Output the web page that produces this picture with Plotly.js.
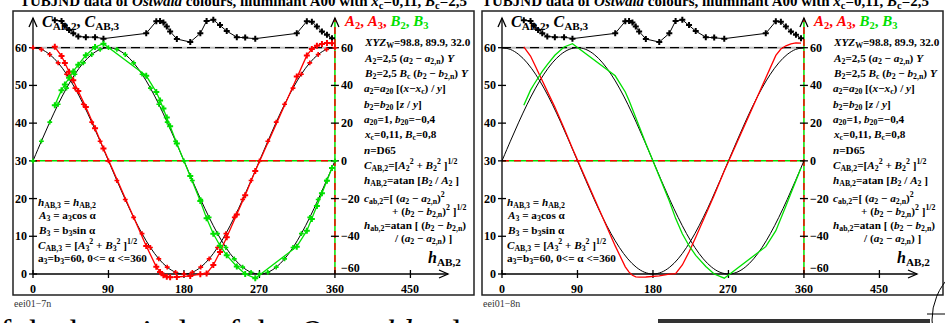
<!DOCTYPE html>
<html>
<head>
<meta charset="utf-8">
<script src="https://cdn.plot.ly/plotly-3.0.1.min.js"></script>
<style>
  body { margin: 0; background: #fff; }
  #chart { width: 945px; height: 323px; }
</style>
</head>
<body>
<div id="chart"></div>
<script>
// hue angle h_AB,2 of the measured Ostwald colours (degrees)
var hueData = [26, 34, 38, 43, 48, 54, 63, 74, 84, 135, 147, 151.5, 155.5, 159.5, 163.5, 171.5,
  187.5, 199.5, 207, 215, 223, 231, 243, 253, 265, 314.5, 326.5, 332.5, 338.5, 344.5, 350.5, 356.5];
// chroma C_AB,2 (left scale)
var chromaC2 = [67.3, 67.1, 65.8, 64.7, 63.8, 63.0, 62.8, 62.8, 62.4, 63.8, 67.0, 67.1, 66.7, 65.6, 64.3, 62.3,
  61.5, 63.8, 67.1, 67.4, 66.0, 64.4, 62.8, 62.7, 62.4, 63.8, 67.0, 66.9, 65.6, 64.3, 63.4, 62.5];
// A_2 and B_2 (right scale)
var redA2 = [60.5, 55.6, 51.9, 47.3, 42.7, 37.0, 28.5, 17.3, 6.5, -45.1, -56.2, -59.0, -60.7, -61.5, -61.7, -61.6,
  -61.0, -60.1, -59.8, -55.2, -48.3, -40.5, -28.5, -18.3, -5.4, 44.7, 55.9, 59.3, 61.0, 62.0, 62.5, 62.4];
var greenB2 = [29.5, 37.5, 40.5, 44.1, 47.4, 51.0, 56.0, 60.4, 62.1, 45.1, 36.5, 32.0, 27.7, 23.0, 18.3, 9.2,
  -8.0, -21.3, -30.5, -38.7, -45.0, -50.1, -56.0, -60.0, -62.2, -45.5, -37.0, -30.9, -24.0, -17.2, -10.5, -3.8];
// hue circle A_3, B_3 with a_3 = b_3 = 60
var hueModel = [0, 10, 20, 30, 40, 50, 60, 70, 80, 90, 100, 110, 120, 130, 140, 150, 160, 170, 180,
  190, 200, 210, 220, 230, 240, 250, 260, 270, 280, 290, 300, 310, 320, 330, 340, 350, 360];
var modelA3 = [60, 59.09, 56.38, 51.96, 45.96, 38.57, 30, 20.52, 10.42, 0, -10.42, -20.52, -30, -38.57, -45.96,
  -51.96, -56.38, -59.09, -60, -59.09, -56.38, -51.96, -45.96, -38.57, -30, -20.52, -10.42, 0, 10.42, 20.52,
  30, 38.57, 45.96, 51.96, 56.38, 59.09, 60];
var modelB3 = [0, 10.42, 20.52, 30, 38.57, 45.96, 51.96, 56.38, 59.09, 60, 59.09, 56.38, 51.96, 45.96, 38.57,
  30, 20.52, 10.42, 0, -10.42, -20.52, -30, -38.57, -45.96, -51.96, -56.38, -59.09, -60, -59.09, -56.38,
  -51.96, -45.96, -38.57, -30, -20.52, -10.42, 0];

var xTicks = [0, 90, 180, 270, 360, 450];
var leftTicks = [0, 10, 20, 30, 40, 50, 60];
var rightTicks = [60, 40, 20, 0, -20, -40, -60];

// page geometry (pixels)
var W = 945, H = 323;
var KX = 0.8387, KY = 3.7717;   // px per degree, px per chroma unit
var X0 = 33, Y0 = 274;          // pixel of h=0 and C=0 in the left panel
var SHIFT = 469;                // the right panel is the left one moved right
var RED = '#ff0000', GREEN = '#00e000';
var FONT = 'Liberation Serif, Times New Roman, serif';

var xRange = [(14 - X0) / KX, (474 - X0) / KX];
var yRange = [(Y0 - 294) / KY, (Y0 - 12) / KY];
var y2Range = [(yRange[0] - 30) * 2, (yRange[1] - 30) * 2];
var yDomain = [(H - 294) / H, (H - 12) / H];

function curve(x, y, xa, ya, color, width, mode, spline, size) {
  return {
    x: x, y: y, xaxis: xa, yaxis: ya, mode: mode, hoverinfo: 'skip', showlegend: false,
    line: {color: color, width: width, shape: spline ? 'spline' : 'linear'},
    marker: {symbol: 'cross', size: size || 5, color: color}
  };
}

var data = [
  // left panel, with marks
  curve(hueModel, modelA3, 'x', 'y2', '#000', 1, 'lines', true),
  curve(hueModel, modelB3, 'x', 'y2', '#000', 1, 'lines', true),
  curve(hueModel, modelA3, 'x', 'y2', RED, 1, 'markers', false, 4),
  curve(hueModel, modelB3, 'x', 'y2', GREEN, 1, 'markers', false, 4),
  curve(hueData, redA2, 'x', 'y2', RED, 1.3, 'lines+markers'),
  curve(hueData, greenB2, 'x', 'y2', GREEN, 1.3, 'lines+markers'),
  curve(hueData, chromaC2, 'x', 'y', '#000', 1, 'lines+markers'),
  // right panel, lines only
  curve(hueModel, modelA3, 'x2', 'y4', '#000', 1, 'lines', true),
  curve(hueModel, modelB3, 'x2', 'y4', '#000', 1, 'lines', true),
  curve(hueData, redA2, 'x2', 'y4', RED, 1.3, 'lines'),
  curve(hueData, greenB2, 'x2', 'y4', GREEN, 1.3, 'lines'),
  curve(hueData, chromaC2, 'x2', 'y3', '#000', 1, 'lines+markers')
];

var shapes = [], annotations = [];

function panel(xr, yr, yr2, dx) {
  var ux = 1 / KX, uy = 1 / KY;
  var vTop = (Y0 - 18) / KY;
  var hEnd = (448 - X0) / KX;
  var axisLine = {color: '#000', width: 1.3};
  function seg(x0, y0, x1, y1, line, yref) {
    shapes.push({type: 'line', xref: xr, yref: yref || yr, x0: x0, y0: y0, x1: x1, y1: y1,
      line: line, layer: 'below'});
  }
  function path(d) {
    shapes.push({type: 'path', xref: xr, yref: yr, path: d, line: axisLine,
      fillcolor: 'rgba(0,0,0,0)', layer: 'below'});
  }
  // frame
  shapes.push({type: 'rect', xref: 'paper', yref: 'paper',
    x0: (13 + dx) / W, x1: (474 + dx) / W, y0: (H - 295) / H, y1: (H - 11) / H,
    line: {color: '#222', width: 1.5}});
  // C = 60 reference
  seg(0, 60, 360, 60, {color: '#bdbdbd', width: 2});
  seg(0, 60, 360, 60, {color: '#000', width: 1.3, dash: '9px,5px'});
  // A, B = 0 reference and the A,B axis at 360
  seg(0, 0, 360, 0, {color: GREEN, width: 1.5}, yr2);
  seg(0, 0, 360, 0, {color: RED, width: 1.5, dash: '7px,5px'}, yr2);
  seg(360, 0, 360, vTop, {color: GREEN, width: 1.5});
  seg(360, 0, 360, vTop, {color: RED, width: 1.5, dash: '7px,5px'});
  // axes and arrows
  seg(0, 0, 0, vTop, axisLine);
  seg(0, 0, hEnd, 0, axisLine);
  [0, 360].forEach(function (h) {
    path('M ' + (h - 4 * ux) + ',' + (vTop - 9 * uy) + ' L ' + h + ',' + vTop +
      ' L ' + (h + 4 * ux) + ',' + (vTop - 9 * uy));
  });
  path('M ' + (hEnd - 9 * ux) + ',' + (4 * uy) + ' L ' + hEnd + ',0 L ' + (hEnd - 9 * ux) + ',' + (-4 * uy));
  // ticks and labels
  var tickFont = {family: FONT, size: 12, color: '#000'};
  leftTicks.forEach(function (v) {
    seg(-4 * ux, v, 4 * ux, v, axisLine);
    annotations.push({xref: xr, yref: yr, x: 0, y: v, xanchor: 'right', yanchor: 'middle', xshift: -4,
      text: '<b>' + v + '</b>', showarrow: false, font: tickFont});
  });
  xTicks.forEach(function (h) {
    seg(h, -4 * uy, h, 4 * uy, axisLine);
    annotations.push({xref: xr, yref: yr, x: h, y: 0, xanchor: 'center', yanchor: 'top', yshift: -6,
      text: '<b>' + h + '</b>', showarrow: false, font: tickFont});
  });
  rightTicks.forEach(function (a) {
    if (a !== -60) seg(360 - 4 * ux, a, 360 + 4 * ux, a, axisLine, yr2);
    annotations.push({xref: xr, yref: yr2, x: 360, y: a, xanchor: 'left', yanchor: 'middle', xshift: 4,
      yshift: a === -60 ? 6 : 0, text: '<b>' + String(a).replace('-', '\u2212') + '</b>',
      showarrow: false, font: tickFont});
  });
}

panel('x', 'y', 'y2', 0);
panel('x2', 'y3', 'y4', SHIFT);

function note(text, px, py, size, dx, extra) {
  var a = {xref: 'paper', yref: 'paper', x: (px + dx) / W, y: 1 - py / H, xanchor: 'left', yanchor: 'middle',
    text: text, showarrow: false, align: 'left', font: {family: FONT, size: size, color: '#000'}};
  for (var k in extra) a[k] = extra[k];
  annotations.push(a);
}

var title = '<b>TUBJND data of <i>Ostwald</i> colours, illuminant A00 with <i>x</i><sub>c</sub>=0,11, ' +
  '<i>B</i><sub>c</sub>=2,5</b>';
var rightNotes = [
  ['<i>XYZ</i><sub>W</sub>=98.8, 89.9, 32.0', 362, 43.3],
  ['<i>A</i><sub>2</sub>=2,5 (<i>a</i><sub>2</sub> \u2212 <i>a</i><sub>2,n</sub>) <i>Y</i>', 362, 59.3],
  ['<i>B</i><sub>2</sub>=2,5 <i>B</i><sub>c</sub> (<i>b</i><sub>2</sub> \u2212 <i>b</i><sub>2,n</sub>) <i>Y</i>', 362, 74],
  ['<i>a</i><sub>2</sub>=<i>a</i><sub>20</sub> [(<i>x</i>\u2212<i>x</i><sub>c</sub>) / <i>y</i>]', 362, 89.3],
  ['<i>b</i><sub>2</sub>=<i>b</i><sub>20</sub> [<i>z</i> / <i>y</i>]', 362, 105],
  ['<i>a</i><sub>20</sub>=1, <i>b</i><sub>20</sub>=\u22120,4', 362, 120],
  ['<i>x</i><sub>c</sub>=0,11, <i>B</i><sub>c</sub>=0,8', 362, 135],
  ['<i>n</i>=D65', 362, 150],
  ['<i>C</i><sub>AB,2</sub>=[<i>A</i><sub>2</sub><sup>2</sup> + <i>B</i><sub>2</sub><sup>2</sup> ]<sup>1/2</sup>', 362, 165],
  ['<i>h</i><sub>AB,2</sub>=atan [<i>B</i><sub>2</sub> / <i>A</i><sub>2</sub> ]', 362, 181],
  ['<i>c</i><sub>ab,2</sub>=[ (<i>a</i><sub>2</sub> \u2212 <i>a</i><sub>2,n</sub>)<sup>2</sup>', 362, 197.7],
  ['+ (<i>b</i><sub>2</sub> \u2212 <i>b</i><sub>2,n</sub>)<sup>2</sup> ]<sup>1/2</sup>', 390, 211],
  ['<i>h</i><sub>ab,2</sub>=atan [ (<i>b</i><sub>2</sub> \u2212 <i>b</i><sub>2,n</sub>)', 362, 226],
  ['/ (<i>a</i><sub>2</sub> \u2212 <i>a</i><sub>2,n</sub>) ]', 392, 239.3]
];
var leftNotes = [
  ['<i>h</i><sub>AB,3</sub> = <i>h</i><sub>AB,2</sub>', 36, 202.7],
  ['<i>A</i><sub>3</sub> = a<sub>3</sub>cos \u03b1', 36, 216],
  ['<i>B</i><sub>3</sub> = b<sub>3</sub>sin \u03b1', 36, 230.5],
  ['<i>C</i><sub>AB,3</sub> = [<i>A</i><sub>3</sub><sup>2</sup> + <i>B</i><sub>3</sub><sup>2</sup> ]<sup>1/2</sup>', 36, 245],
  ['a<sub>3</sub>=b<sub>3</sub>=60, 0&lt;= \u03b1 &lt;=360', 36, 259.3]
];

[[0, 18, 'eei01\u22127n'], [SHIFT, 480, 'eei01\u22128n']].forEach(function (p) {
  var dx = p[0];
  note(title, p[1] - dx, 2, 15, dx);
  note('<b><i>C</i><sub>AB,2</sub>, <i>C</i><sub>AB,3</sub></b>', 40, 22, 16, dx);
  note('<b><span style="color:' + RED + '"><i>A</i><sub>2</sub>, <i>A</i><sub>3</sub>, </span>' +
    '<span style="color:' + GREEN + '"><i>B</i><sub>2</sub>, <i>B</i><sub>3</sub></span></b>', 342, 22, 15, dx);
  rightNotes.forEach(function (n) { note('<b>' + n[0] + '</b>', n[1], n[2], 11.2, dx); });
  leftNotes.forEach(function (n) { note('<b>' + n[0] + '</b>', n[1], n[2], 11.2, dx); });
  note('<b><i>h</i><sub>AB,2</sub></b>', 426, 258, 16, dx);
  note(p[2], 12, 303, 10, dx, {font: {family: FONT, size: 10, color: '#333'}});
});
note('of the hue circle of the <i>Ostwald</i> colours', -19, 331, 34, 0);

// print marks at the bottom edge
shapes.push({type: 'rect', xref: 'paper', yref: 'paper', x0: 658 / W, x1: 930 / W, y0: 0, y1: 4 / H,
  fillcolor: '#333', line: {width: 0}});
shapes.push({type: 'circle', xref: 'paper', yref: 'paper', x0: 932 / W, x1: 1056 / W,
  y0: (H - 382) / H, y1: (H - 258) / H, line: {color: '#000', width: 1}});
shapes.push({type: 'line', xref: 'paper', yref: 'paper', x0: 927 / W, x1: 945 / W,
  y0: (H - 314) / H, y1: (H - 314) / H, line: {color: '#000', width: 1}});

var hidden = {visible: false, range: xRange, fixedrange: true};
var layout = {
  width: W, height: H,
  margin: {l: 0, r: 0, t: 0, b: 0},
  paper_bgcolor: '#fff', plot_bgcolor: 'rgba(0,0,0,0)',
  xaxis: Object.assign({}, hidden, {domain: [14 / W, 474 / W], anchor: 'y'}),
  yaxis: {visible: false, range: yRange, domain: yDomain, anchor: 'x'},
  yaxis2: {visible: false, range: y2Range, overlaying: 'y', anchor: 'x'},
  xaxis2: Object.assign({}, hidden, {domain: [483 / W, 943 / W], anchor: 'y3'}),
  yaxis3: {visible: false, range: yRange, domain: yDomain, anchor: 'x2'},
  yaxis4: {visible: false, range: y2Range, overlaying: 'y3', anchor: 'x2'},
  shapes: shapes,
  annotations: annotations
};

Plotly.newPlot('chart', data, layout, {staticPlot: true});
</script>
</body>
</html>
